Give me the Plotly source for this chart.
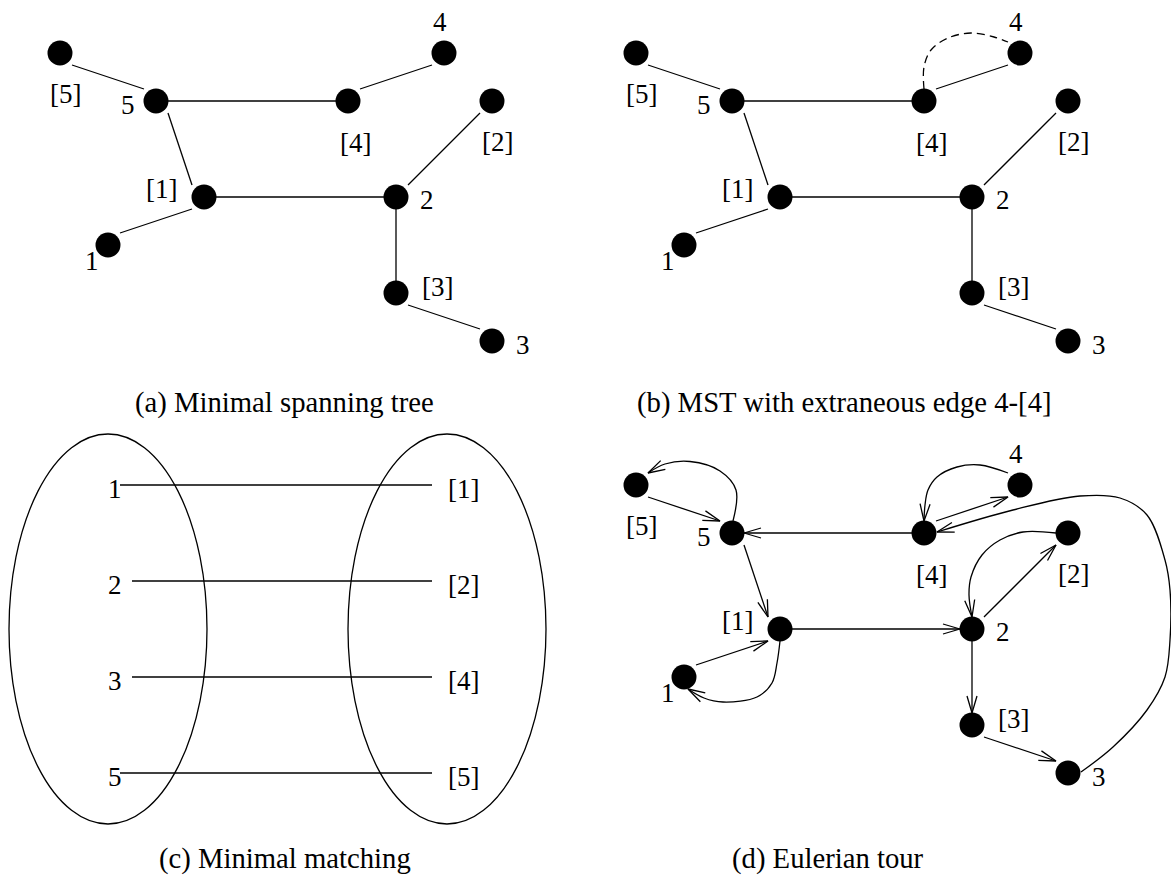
import numpy as np
import plotly.graph_objects as go

W, H = 1171, 878

# ---------------- data (pixel layout of the diagram) -------------
# nodes shared by panels (a), (b) and (d) -- panel-local coordinates
NODE_NAMES = ["[5]", "5", "[4]", "4", "[2]", "[1]", "2", "1", "[3]", "3"]
NODE_X = [60, 156, 348, 444, 492, 204, 396, 108, 396, 492]
NODE_Y = [53, 101, 101, 53, 101, 197, 197, 245, 293, 341]
LABEL_X = [65, 127.5, 355, 440, 497, 161, 427, 91.5, 437, 523]
LABEL_Y = [94, 104.5, 142.5, 22, 142, 189, 200, 261, 287, 345]

# minimal spanning tree edges
TREE_EDGES = [("[5]", "5"), ("5", "[4]"), ("[4]", "4"), ("5", "[1]"), ("[1]", "2"),
              ("[1]", "1"), ("2", "[2]"), ("2", "[3]"), ("[3]", "3")]

# extraneous (dashed) edge 4-[4] of panel (b)
EXTRA_X = [348, 348, 355, 372, 395, 418, 432]
EXTRA_Y = [89, 67, 50, 38, 33, 37, 42]

# Eulerian tour of panel (d): straight arcs
TOUR_STRAIGHT = [("[5]", "5"), ("[4]", "5"), ("5", "[1]"), ("1", "[1]"), ("[1]", "2"),
                 ("2", "[2]"), ("2", "[3]"), ("[3]", "3"), ("[4]", "4")]
# curved arcs (waypoints, panel-local)
CURVE_5_TO_B5_X = [157, 160, 144, 114, 89, 72]
CURVE_5_TO_B5_Y = [89, 58, 39, 29.5, 32, 41]
CURVE_B1_TO_1_X = [204, 201, 196, 181, 147, 128, 112]
CURVE_B1_TO_1_Y = [209, 231, 251, 265, 270, 266, 257]
CURVE_B2_TO_2_X = [480, 447, 424, 406, 395, 393, 396]
CURVE_B2_TO_2_Y = [101, 100, 108, 123, 145, 163, 185]
CURVE_4_TO_B4_X = [432, 404, 381, 361, 352, 349, 348]
CURVE_4_TO_B4_Y = [41, 33, 35, 45, 58, 73, 89]
CURVE_3_TO_B4_X = [505, 537, 571, 589, 594, 594, 589, 571, 544, 504, 437, 361]
CURVE_3_TO_B4_Y = [340, 315, 278, 245, 208, 158, 128, 83, 66, 64, 78, 100]
TOUR_CURVES = [(CURVE_5_TO_B5_X, CURVE_5_TO_B5_Y), (CURVE_B1_TO_1_X, CURVE_B1_TO_1_Y),
               (CURVE_B2_TO_2_X, CURVE_B2_TO_2_Y), (CURVE_4_TO_B4_X, CURVE_4_TO_B4_Y),
               (CURVE_3_TO_B4_X, CURVE_3_TO_B4_Y)]

# minimal matching, panel (c)
MATCH_LEFT = ["1", "2", "3", "5"]
MATCH_RIGHT = ["[1]", "[2]", "[4]", "[5]"]
MATCH_Y = [485, 581, 677, 773]
MATCH_X0 = [120, 132, 132, 120]
MATCH_X1 = [432, 432, 432, 432]
MATCH_LEFT_X = 115
MATCH_RIGHT_X = 463
ELLIPSE_CX = [108, 447]
ELLIPSE_CY = 629
ELLIPSE_RX = 99
ELLIPSE_RY = 195

# panel offsets and captions
OFFSET_A = (0, 0)
OFFSET_B = (576, 0)
OFFSET_D = (576, 432)
CAPTIONS = ["(a) Minimal spanning tree", "(b) MST with extraneous edge 4-[4]",
            "(c) Minimal matching", "(d) Eulerian tour"]
CAPTION_X = [284, 844, 284.5, 828]
CAPTION_Y = [402, 402, 858, 858]

# ---------------- drawing -------------
FONT = "Liberation Serif, Times New Roman, serif"
LW = 1.3
LABEL_SIZE = 27
CAPTION_SIZE = 28.7

pos = {n: np.array([x, y], float) for n, x, y in zip(NODE_NAMES, NODE_X, NODE_Y)}

fig = go.Figure()
annotations = []


def end_points(a, b):
    pa, pb = pos[a], pos[b]
    d = np.sign(pb - pa)
    return pa + 12 * d, pb - 12 * d


def add_line(xs, ys, dash="solid", shape="linear"):
    fig.add_trace(go.Scatter(x=xs, y=ys, mode="lines", hoverinfo="skip",
                             line=dict(color="black", width=LW, dash=dash, shape=shape,
                                       smoothing=1.0)))


def arrow_head(tip, prev, L=17.0, w=5.0):
    u = (tip - prev) / np.linalg.norm(tip - prev)
    p = np.array([-u[1], u[0]])
    a1 = tip - u * L + p * w
    a2 = tip - u * L - p * w
    return [a1[0], tip[0], a2[0]], [a1[1], tip[1], a2[1]]


def draw_nodes(off):
    fig.add_trace(go.Scatter(x=[x + off[0] for x in NODE_X], y=[y + off[1] for y in NODE_Y],
                             mode="markers", hoverinfo="skip",
                             marker=dict(size=25, color="black", line=dict(width=0))))
    for n, lx, ly in zip(NODE_NAMES, LABEL_X, LABEL_Y):
        annotations.append(dict(x=lx + off[0], y=ly + off[1], text=n, showarrow=False,
                                xanchor="center", yanchor="middle",
                                font=dict(family=FONT, size=LABEL_SIZE, color="black")))


def draw_tree(off):
    xs, ys = [], []
    for a, b in TREE_EDGES:
        p, q = end_points(a, b)
        xs += [p[0] + off[0], q[0] + off[0], None]
        ys += [p[1] + off[1], q[1] + off[1], None]
    add_line(xs, ys)


# (a)
draw_tree(OFFSET_A)
draw_nodes(OFFSET_A)

# (b)
draw_tree(OFFSET_B)
add_line([x + OFFSET_B[0] for x in EXTRA_X], [y + OFFSET_B[1] for y in EXTRA_Y],
         dash="8px,5px", shape="spline")
draw_nodes(OFFSET_B)

# (d)
ox, oy = OFFSET_D
xs, ys = [], []
for a, b in TOUR_STRAIGHT:
    p, q = end_points(a, b)
    xs += [p[0] + ox, q[0] + ox, None]
    ys += [p[1] + oy, q[1] + oy, None]
    hx, hy = arrow_head(q, p)
    xs += [v + ox for v in hx] + [None]
    ys += [v + oy for v in hy] + [None]
add_line(xs, ys)
for cx_, cy_ in TOUR_CURVES:
    add_line([x + ox for x in cx_], [y + oy for y in cy_], shape="spline")
    tip = np.array([cx_[-1], cy_[-1]], float)
    prev = np.array([cx_[-2], cy_[-2]], float)
    hx, hy = arrow_head(tip, prev)
    add_line([v + ox for v in hx], [v + oy for v in hy])
draw_nodes(OFFSET_D)

# (c)
xs, ys = [], []
for y, x0, x1 in zip(MATCH_Y, MATCH_X0, MATCH_X1):
    xs += [x0, x1, None]
    ys += [y, y, None]
add_line(xs, ys)
for l, r, y in zip(MATCH_LEFT, MATCH_RIGHT, MATCH_Y):
    for t, x in ((l, MATCH_LEFT_X), (r, MATCH_RIGHT_X)):
        annotations.append(dict(x=x, y=y + 4, text=t, showarrow=False,
                                xanchor="center", yanchor="middle",
                                font=dict(family=FONT, size=LABEL_SIZE, color="black")))
shapes = []
for cx in ELLIPSE_CX:
    shapes.append(dict(type="circle", xref="x", yref="y",
                       x0=cx - ELLIPSE_RX, x1=cx + ELLIPSE_RX,
                       y0=ELLIPSE_CY - ELLIPSE_RY, y1=ELLIPSE_CY + ELLIPSE_RY,
                       line=dict(color="black", width=LW), layer="below"))

for t, x, y in zip(CAPTIONS, CAPTION_X, CAPTION_Y):
    annotations.append(dict(x=x, y=y, text=t, showarrow=False, xanchor="center",
                            yanchor="middle",
                            font=dict(family=FONT, size=CAPTION_SIZE, color="black")))

fig.update_layout(
    width=W, height=H, autosize=False,
    margin=dict(l=0, r=0, t=0, b=0, pad=0),
    paper_bgcolor="white", plot_bgcolor="white",
    showlegend=False,
    xaxis=dict(range=[0, W], visible=False, fixedrange=True),
    yaxis=dict(range=[H, 0], visible=False, fixedrange=True),
    annotations=annotations, shapes=shapes,
)

fig.write_html("out.html", config={"displayModeBar": False, "responsive": False},
               post_script="document.body.style.margin='0';document.body.style.overflow='hidden';")
